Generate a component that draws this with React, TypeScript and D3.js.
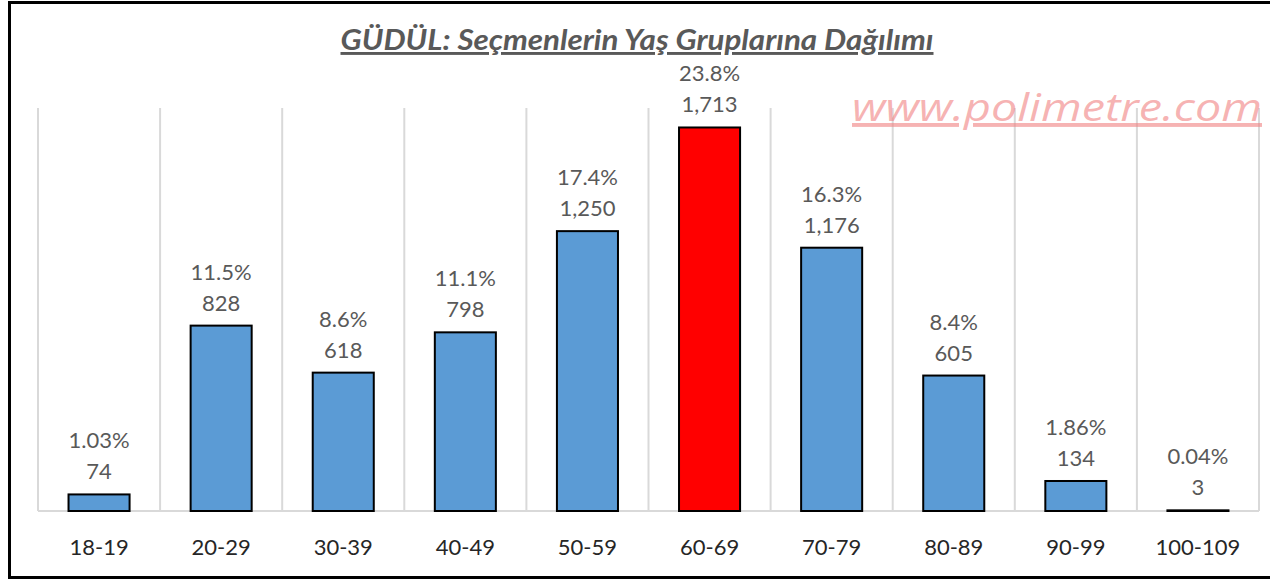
import * as d3 from "d3";

const WIDTH = 1270;
const HEIGHT = 580;
const PLOT = { left: 38, right: 1259, top: 108, bottom: 511 };
const FONT = "Lato, 'Open Sans', sans-serif";

const ageGroups = ["18-19", "20-29", "30-39", "40-49", "50-59", "60-69", "70-79", "80-89", "90-99", "100-109"];
const voters = [74, 828, 618, 798, 1250, 1713, 1176, 605, 134, 3];
const shares = ["1.03%", "11.5%", "8.6%", "11.1%", "17.4%", "23.8%", "16.3%", "8.4%", "1.86%", "0.04%"];
const highlight = "60-69";

const TITLE = "GÜDÜL: Seçmenlerin Yaş Gruplarına Dağılımı";
const WATERMARK = "www.polimetre.com";

export default function App() {
  const xScale = d3.scaleBand<string>().domain(ageGroups).range([PLOT.left, PLOT.right]).padding(0);
  const yScale = d3.scaleLinear().domain([0, 1800]).range([PLOT.bottom, PLOT.top]);
  const bw = xScale.bandwidth();
  const fmt = d3.format(",");

  return (
    <svg
      width={WIDTH}
      height={HEIGHT}
      style={{ position: "absolute", left: 0, top: 0, background: "#fff" }}
      fontFamily={FONT}
    >
      <rect x={0} y={0} width={WIDTH} height={HEIGHT} fill="#fff" />

      {/* vertical gridlines between categories */}
      {[...ageGroups.map((g) => xScale(g)!), PLOT.right].map((x, i) => (
        <line key={i} x1={x} x2={x} y1={PLOT.top} y2={PLOT.bottom} stroke="#d9d9d9" strokeWidth={2} />
      ))}
      <line x1={PLOT.left} x2={PLOT.right} y1={PLOT.bottom} y2={PLOT.bottom} stroke="#d9d9d9" strokeWidth={2} />

      {/* watermark */}
      <text
        x={852}
        y={121}
        fontSize={39}
        fontStyle="italic"
        fill="#f08080"
        fillOpacity={0.6}
        textDecoration="underline"
        textLength={410}
        lengthAdjust="spacingAndGlyphs"
        fontFamily="'Open Sans', sans-serif"
      >
        {WATERMARK}
      </text>

      {/* bars */}
      {ageGroups.map((g, i) => {
        const x = xScale(g)! + bw * 0.25;
        const y = yScale(voters[i]);
        return (
          <rect
            key={g}
            x={x}
            y={y}
            width={bw * 0.5}
            height={Math.max(PLOT.bottom - y, 0.5)}
            fill={g === highlight ? "#ff0000" : "#5b9bd5"}
            stroke="#000"
            strokeWidth={2}
          />
        );
      })}

      {/* value labels */}
      {ageGroups.map((g, i) => {
        const cx = xScale(g)! + bw / 2;
        const y = yScale(voters[i]);
        return (
          <g key={g} fill="#595959" fontSize={22} textAnchor="middle">
            <text x={cx} y={y - 46}>{shares[i]}</text>
            <text x={cx} y={y - 15}>{fmt(voters[i])}</text>
          </g>
        );
      })}

      {/* category labels */}
      {ageGroups.map((g) => (
        <text key={g} x={xScale(g)! + bw / 2} y={555} textAnchor="middle" fontSize={22} fill="#262626">
          {g}
        </text>
      ))}

      {/* title */}
      <text
        x={637}
        y={50}
        textAnchor="middle"
        fontSize={29}
        fontWeight="bold"
        fontStyle="italic"
        fill="#595959"
        textDecoration="underline"
        textLength={593}
        lengthAdjust="spacingAndGlyphs"
      >
        {TITLE}
      </text>

      {/* outer frame */}
      <rect x={9.5} y={2.5} width={WIDTH} height={575} fill="none" stroke="#000" strokeWidth={3} />
    </svg>
  );
}
